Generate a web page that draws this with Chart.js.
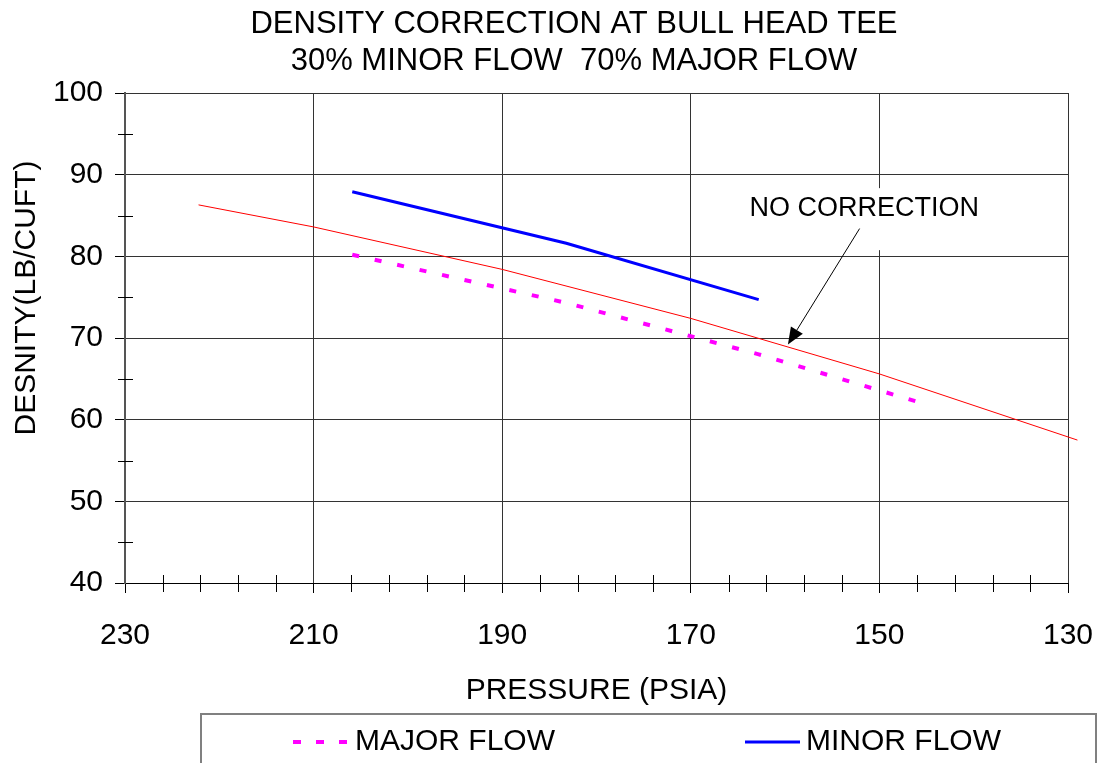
<!DOCTYPE html>
<html>
<head>
<meta charset="utf-8">
<title>Density correction at bull head tee</title>
<script src="https://cdn.jsdelivr.net/npm/chart.js@4.4.1/dist/chart.umd.min.js"></script>
<style>
    html, body { margin: 0; padding: 0; background: #ffffff; }
    #wrap { width: 1099px; height: 763px; }
</style>
</head>
<body>
<div id="wrap"><canvas id="chart" width="1099" height="763"></canvas></div>
<script>
// ==================== DONNÉES ====================
const titleLines = ["DENSITY CORRECTION AT BULL HEAD TEE", "30% MINOR FLOW  70% MAJOR FLOW"];
const xTitle = "PRESSURE (PSIA)";
const yTitle = "DESNITY(LB/CUFT)";
const annotationText = "NO CORRECTION";

const noCorrectionPressure = [222.2, 210, 190, 170, 150, 129];
const noCorrectionDensity = [86.3, 83.6, 78.4, 72.4, 65.6, 57.5];

const majorFlowPressure = [205.9, 183.2, 162.8, 145.7];
const majorFlowDensity = [80.2, 74.3, 68.0, 62.1];

const minorFlowPressure = [205.9, 183.2, 162.8];
const minorFlowDensity = [87.9, 81.6, 74.7];

const xMinorTicks = [226, 222, 218, 214, 206, 202, 198, 194, 186, 182, 178, 174, 166, 162, 158, 154, 146, 142, 138, 134];
const yMinorTicks = [45, 55, 65, 75, 85, 95];

// flèche "NO CORRECTION" (en unités des axes)
const labelPos = [151.6, 85.9];
const arrowFrom = [152.1, 83.4];
const arrowTo = [159.7, 69.2];

const FONT = '"Liberation Sans", Arial, sans-serif';

function toPoints(xs, ys) {
    return xs.map((x, i) => ({ x: x, y: ys[i] }));
}

// ==================== PLUGIN : FOND, TEXTES, GRADUATIONS, LÉGENDE ====================
const decorPlugin = {
    id: "decor",
    beforeDraw(chart) {
        const ctx = chart.ctx;
        ctx.save();
        ctx.fillStyle = "#ffffff";
        ctx.fillRect(0, 0, chart.width, chart.height);
        ctx.restore();
    },
    afterDatasetsDraw(chart) {
        const ctx = chart.ctx;
        const xs = chart.scales.x;
        const ys = chart.scales.y;
        const area = chart.chartArea;

        ctx.save();
        // petites graduations qui traversent les axes
        ctx.strokeStyle = "#000";
        ctx.lineWidth = 1;
        ctx.beginPath();
        xMinorTicks.forEach(v => {
            const px = Math.round(xs.getPixelForValue(v)) + 0.5;
            ctx.moveTo(px, area.bottom - 8);
            ctx.lineTo(px, area.bottom + 9);
        });
        yMinorTicks.forEach(v => {
            const py = Math.round(ys.getPixelForValue(v)) + 0.5;
            ctx.moveTo(area.left - 7, py);
            ctx.lineTo(area.left + 8, py);
        });
        ctx.stroke();

        // étiquette "NO CORRECTION" sur fond blanc
        const lx = xs.getPixelForValue(labelPos[0]);
        const ly = ys.getPixelForValue(labelPos[1]);
        ctx.font = "27px " + FONT;
        ctx.fillStyle = "#ffffff";
        ctx.fillRect(lx - 120, ly - 20, 240, 62);
        ctx.fillStyle = "#000";
        ctx.textAlign = "center";
        ctx.textBaseline = "middle";
        ctx.fillText(annotationText, lx, ly);

        // flèche
        const ax = xs.getPixelForValue(arrowFrom[0]);
        const ay = ys.getPixelForValue(arrowFrom[1]);
        const bx = xs.getPixelForValue(arrowTo[0]);
        const by = ys.getPixelForValue(arrowTo[1]);
        const ang = Math.atan2(by - ay, bx - ax);
        const headLen = 17, headW = 7;
        const hx = bx - headLen * Math.cos(ang);
        const hy = by - headLen * Math.sin(ang);
        ctx.strokeStyle = "#000";
        ctx.lineWidth = 1;
        ctx.beginPath();
        ctx.moveTo(ax, ay);
        ctx.lineTo(hx, hy);
        ctx.stroke();
        ctx.beginPath();
        ctx.moveTo(bx, by);
        ctx.lineTo(hx + headW * Math.sin(ang), hy - headW * Math.cos(ang));
        ctx.lineTo(hx - headW * Math.sin(ang), hy + headW * Math.cos(ang));
        ctx.closePath();
        ctx.fillStyle = "#000";
        ctx.fill();
        ctx.restore();
    },
    afterDraw(chart) {
        const ctx = chart.ctx;
        const area = chart.chartArea;
        ctx.save();
        ctx.fillStyle = "#000";

        // titre
        ctx.font = "31px " + FONT;
        ctx.textAlign = "center";
        ctx.textBaseline = "alphabetic";
        ctx.fillText(titleLines[0], 574, 33);
        ctx.fillText(titleLines[1], 574, 70);

        // titres des axes
        ctx.font = "30px " + FONT;
        ctx.fillText(xTitle, (area.left + area.right) / 2, 699);
        ctx.save();
        ctx.translate(35, 298);
        ctx.rotate(-Math.PI / 2);
        ctx.fillText(yTitle, 0, 0);
        ctx.restore();

        // légende encadrée
        ctx.strokeStyle = "#808080";
        ctx.lineWidth = 2;
        ctx.strokeRect(201, 714, 895, 70);

        const ly = 742;
        ctx.strokeStyle = "#ff00ff";
        ctx.lineWidth = 4;
        ctx.setLineDash([8, 15]);
        ctx.beginPath();
        ctx.moveTo(293, ly);
        ctx.lineTo(350, ly);
        ctx.stroke();
        ctx.setLineDash([]);

        ctx.strokeStyle = "#0000ff";
        ctx.lineWidth = 3;
        ctx.beginPath();
        ctx.moveTo(745, ly);
        ctx.lineTo(800, ly);
        ctx.stroke();

        ctx.textAlign = "left";
        ctx.textBaseline = "middle";
        ctx.fillText("MAJOR FLOW", 355, ly);
        ctx.fillText("MINOR FLOW", 806, ly);
        ctx.restore();
    }
};

// ==================== GRAPHIQUE ====================
const ctx = document.getElementById("chart").getContext("2d");

new Chart(ctx, {
    type: "line",
    data: {
        datasets: [
            {
                label: "NO CORRECTION",
                data: toPoints(noCorrectionPressure, noCorrectionDensity),
                borderColor: "#ff0000",
                borderWidth: 1,
                pointRadius: 0,
                fill: false,
                clip: false
            },
            {
                label: "MAJOR FLOW",
                data: toPoints(majorFlowPressure, majorFlowDensity),
                borderColor: "#ff00ff",
                borderWidth: 4,
                borderDash: [7, 16],
                borderCapStyle: "butt",
                pointRadius: 0,
                fill: false
            },
            {
                label: "MINOR FLOW",
                data: toPoints(minorFlowPressure, minorFlowDensity),
                borderColor: "#0000ff",
                borderWidth: 3,
                pointRadius: 0,
                fill: false
            }
        ]
    },
    options: {
        responsive: false,
        animation: false,
        layout: { padding: { left: 0, right: 31, top: 93, bottom: 0 } },
        elements: { line: { tension: 0 } },
        plugins: {
            legend: { display: false },
            title: { display: false },
            tooltip: { enabled: false }
        },
        scales: {
            x: {
                type: "linear",
                reverse: true,
                min: 130,
                max: 230,
                afterFit: (s) => {
                    s.height = 180;
                    s.paddingLeft = 0;
                    s.paddingRight = 0;
                },
                ticks: {
                    stepSize: 20,
                    color: "#000",
                    font: { family: FONT, size: 30 },
                    padding: 25,
                    maxRotation: 0,
                    autoSkip: false
                },
                grid: { color: "#333", lineWidth: 1, tickLength: 10, tickColor: "#000" },
                border: { color: "#000", width: 1 }
            },
            y: {
                min: 40,
                max: 100,
                afterFit: (s) => {
                    s.width = 125;
                    s.paddingTop = 0;
                    s.paddingBottom = 0;
                },
                ticks: {
                    stepSize: 10,
                    color: "#000",
                    font: { family: FONT, size: 30 },
                    padding: 12
                },
                grid: { color: "#333", lineWidth: 1, tickLength: 10, tickColor: "#000" },
                border: { color: "#555", width: 2 }
            }
        }
    },
    plugins: [decorPlugin]
});
</script>
</body>
</html>
